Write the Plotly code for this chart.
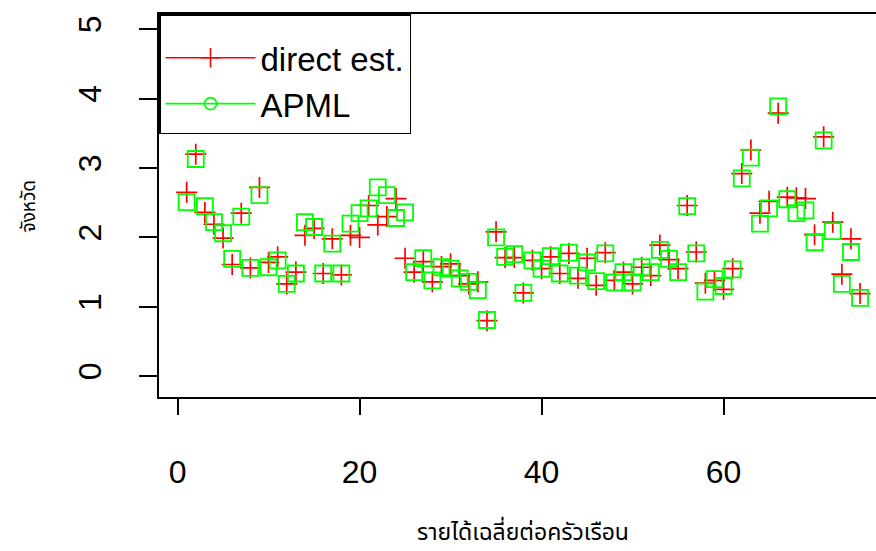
import plotly.graph_objects as go

idx = list(range(1, 76))

direct_est = [2.65, 3.20, 2.36, 2.19, 1.99, 1.61, 2.35, 1.56, 2.72, 1.64,
              1.72, 1.33, 1.50, 2.03, 2.13, 1.48, 1.98, 1.46, 2.03, 2.00,
              2.46, 2.18, 2.30, 2.56, 1.70, 1.50, 1.65, 1.36, 1.58, 1.62,
              1.45, 1.33, 1.36, 0.80, 2.08, 1.71, 1.71, 1.20, 1.67, 1.55,
              1.72, 1.48, 1.77, 1.41, 1.70, 1.31, 1.78, 1.38, 1.50, 1.33,
              1.57, 1.45, 1.89, 1.68, 1.55, 2.46, 1.79, 1.34, 1.38, 1.25,
              1.55, 2.92, 3.26, 2.35, 2.52, 3.79, 2.58, 2.57, 2.56, 2.04,
              3.45, 2.22, 1.47, 1.98, 1.19]

apml = [2.51, 3.13, 2.45, 2.22, 2.06, 1.69, 2.30, 1.56, 2.61, 1.57,
        1.67, 1.33, 1.48, 2.22, 2.15, 1.48, 1.91, 1.48, 2.20, 2.35,
        2.42, 2.72, 2.61, 2.28, 2.36, 1.50, 1.70, 1.38, 1.57, 1.55,
        1.41, 1.36, 1.24, 0.81, 2.00, 1.72, 1.76, 1.20, 1.67, 1.55,
        1.73, 1.48, 1.78, 1.45, 1.64, 1.37, 1.77, 1.35, 1.50, 1.35,
        1.57, 1.50, 1.82, 1.69, 1.50, 2.45, 1.77, 1.22, 1.40, 1.30,
        1.54, 2.85, 3.15, 2.20, 2.42, 3.89, 2.55, 2.35, 2.39, 1.93,
        3.40, 2.09, 1.33, 1.79, 1.13]

x_ticks = [0, 20, 40, 60, 80]
y_ticks = [0, 1, 2, 3, 4, 5]
x_title = "รายได้เฉลี่ยต่อครัวเรือน"
y_title = "จังหวัด"
legend_names = ["direct est.", "APML"]

RED = "#FF0000"
GREEN = "#00FF00"
TICK_FONT = dict(family="Liberation Sans, Arial, sans-serif", size=32, color="black")
THAI_FONT = "Noto Sans Thai, Noto Sans, Liberation Sans, sans-serif"

fig = go.Figure()

fig.add_trace(go.Scatter(
    x=idx, y=direct_est, mode="markers", showlegend=False,
    marker=dict(symbol="cross-thin-open", size=15, color=RED,
                line=dict(color=RED, width=1.7)),
))
fig.add_trace(go.Scatter(
    x=idx, y=apml, mode="markers", showlegend=False,
    marker=dict(symbol="square-open", size=16, color=GREEN,
                line=dict(color=GREEN, width=1.8)),
))

# legend entries (line + point, as in the original legend)
fig.add_trace(go.Scatter(
    x=[None], y=[None], mode="lines+markers", name=legend_names[0],
    line=dict(color=RED, width=1.6),
    marker=dict(symbol="cross-thin-open", size=14, color=RED,
                line=dict(color=RED, width=1.6)),
))
fig.add_trace(go.Scatter(
    x=[None], y=[None], mode="lines+markers", name=legend_names[1],
    line=dict(color=GREEN, width=1.6),
    marker=dict(symbol="circle-open", size=12, color=GREEN,
                line=dict(color=GREEN, width=1.6)),
))

fig.update_layout(
    width=876, height=551,
    margin=dict(l=159, r=0, t=14, b=154),
    paper_bgcolor="white", plot_bgcolor="white",
    showlegend=True,
    legend=dict(
        x=0, y=1, xanchor="left", yanchor="top",
        bgcolor="white", bordercolor="black", borderwidth=1.5,
        font=dict(family="Liberation Sans, Arial, sans-serif", size=33, color="black"),
        itemwidth=90, tracegroupgap=0,
        title=dict(text=" ", font=dict(size=11)),
    ),
    xaxis=dict(
        range=[-2.04, 76.75], tickvals=x_ticks, tickfont=TICK_FONT,
        showline=True, mirror=True, linecolor="black", linewidth=1.5,
        ticks="outside", ticklen=16, tickwidth=1.5, tickcolor="black",
        showgrid=False, zeroline=False, ticklabelstandoff=30,
    ),
    yaxis=dict(
        range=[-0.30, 5.22], tickvals=y_ticks, tickfont=TICK_FONT,
        tickangle=-90,
        showline=True, mirror=False, linecolor="black", linewidth=1.5,
        ticks="outside", ticklen=18, tickwidth=1.5, tickcolor="black",
        showgrid=False, zeroline=False, ticklabelstandoff=25,
    ),
    annotations=[
        dict(text=x_title, xref="x", yref="paper", x=38, y=-0.355,
             xanchor="center", yanchor="middle", showarrow=False,
             font=dict(family=THAI_FONT, size=23, color="black")),
        dict(text=y_title, xref="paper", yref="paper", x=-0.18, y=0.5,
             xanchor="center", yanchor="middle", showarrow=False, textangle=-90,
             font=dict(family=THAI_FONT, size=19, color="black")),
    ],
)

fig.write_html("out.html")
